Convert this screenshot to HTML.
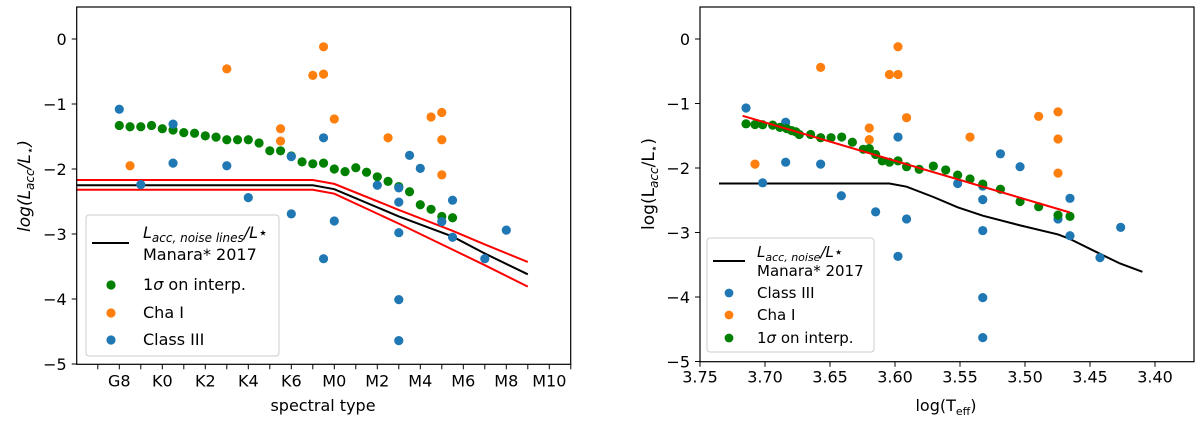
<!DOCTYPE html>
<html><head><meta charset="utf-8"><style>
html,body{margin:0;padding:0;background:#fff;}
svg{display:block;font-family:"DejaVu Sans","Liberation Sans",sans-serif;}
</style></head><body>
<svg id="fig" width="1200" height="422" xmlns="http://www.w3.org/2000/svg"></svg>
<script>
// ---------- Left chart data (x = spectral-type index, G8=0, M0=10) ----------
const spTickLabels = ["G8","K0","K2","K4","K6","M0","M2","M4","M6","M8","M10"];
const yTickLabels = ["0","−1","−2","−3","−4","−5"];
const yTickValues = [0,-1,-2,-3,-4,-5];
const leftGreenX = [0,0.5,1,1.5,2,2.5,3,3.5,4,4.5,5,5.5,6,6.5,7,7.5,8,8.5,9,9.5,10,10.5,11,11.5,12,12.5,13,13.5,14,14.5,15,15.5];
const leftGreenY = [-1.33,-1.35,-1.35,-1.33,-1.38,-1.40,-1.44,-1.45,-1.49,-1.51,-1.55,-1.55,-1.55,-1.60,-1.72,-1.72,-1.80,-1.89,-1.92,-1.91,-2.00,-2.04,-1.98,-2.05,-2.12,-2.19,-2.27,-2.35,-2.55,-2.62,-2.73,-2.75];
const leftOrangeX = [0.5,5,7.5,7.5,9,9.5,9.5,10,12.5,14.5,15,15,15];
const leftOrangeY = [-1.95,-0.46,-1.38,-1.57,-0.56,-0.12,-0.54,-1.23,-1.52,-1.20,-1.13,-1.55,-2.09];
const leftBlueX = [0,1,2.5,2.5,5,6,8,8,9.5,9.5,10,12,13,13,13,13,13,13.5,14,15,15.5,15.5,17,18];
const leftBlueY = [-1.08,-2.24,-1.31,-1.91,-1.95,-2.44,-1.81,-2.69,-1.52,-3.38,-2.80,-2.25,-2.29,-2.51,-2.98,-4.01,-4.64,-1.79,-1.99,-2.81,-2.48,-3.05,-3.38,-2.94];
const leftLineX = [-2,9,10,13,15.5,17,19];
const leftLineY = [-2.25,-2.25,-2.31,-2.73,-3.04,-3.30,-3.62];
const leftUpperY = [-2.17,-2.17,-2.23,-2.63,-2.95,-3.16,-3.43];
const leftLowerY = [-2.32,-2.32,-2.38,-2.84,-3.24,-3.48,-3.81];

// ---------- Right chart data (x = log Teff) ----------
const teffTickValues = [3.75,3.70,3.65,3.60,3.55,3.50,3.45,3.40];
const teffTickLabels = ["3.75","3.70","3.65","3.60","3.55","3.50","3.45","3.40"];
const rightGreenX = [3.7146,3.7077,3.7018,3.6941,3.6885,3.6833,3.6795,3.6762,3.6736,3.6649,3.6572,3.6492,3.6410,3.6328,3.6244,3.6198,3.6149,3.6098,3.6043,3.5977,3.5911,3.5814,3.5705,3.5610,3.5518,3.5423,3.5325,3.5189,3.5038,3.4895,3.4746,3.4654];
const rightGreenY = [-1.315,-1.325,-1.33,-1.335,-1.37,-1.39,-1.42,-1.44,-1.48,-1.48,-1.53,-1.53,-1.52,-1.60,-1.71,-1.70,-1.79,-1.89,-1.91,-1.89,-1.98,-2.02,-1.97,-2.03,-2.11,-2.17,-2.25,-2.33,-2.52,-2.60,-2.73,-2.75];
const rightOrangeX = [3.7077,3.6572,3.6198,3.6198,3.6043,3.5977,3.5977,3.5911,3.5423,3.4895,3.4746,3.4746,3.4746];
const rightOrangeY = [-1.94,-0.44,-1.38,-1.56,-0.55,-0.12,-0.55,-1.22,-1.52,-1.20,-1.13,-1.55,-2.08];
const rightBlueX = [3.7146,3.7018,3.6841,3.6841,3.6572,3.6413,3.6149,3.5977,3.5977,3.5911,3.5518,3.5325,3.5325,3.5325,3.5325,3.5325,3.5189,3.5038,3.4746,3.4654,3.4654,3.4423,3.4264];
const rightBlueY = [-1.07,-2.23,-1.29,-1.91,-1.94,-2.43,-2.68,-1.52,-3.37,-2.79,-2.24,-2.28,-2.49,-2.97,-4.01,-4.63,-1.78,-1.98,-2.79,-2.47,-3.05,-3.39,-2.92];
const rightLineX = [3.7354,3.6043,3.5911,3.5705,3.5518,3.5325,3.5038,3.4746,3.4654,3.4423,3.4269,3.4097];
const rightLineY = [-2.24,-2.24,-2.29,-2.45,-2.61,-2.74,-2.89,-3.03,-3.10,-3.33,-3.48,-3.61];
const rightFitX = [3.7172,3.4654];
const rightFitY = [-1.19,-2.69];

const NS="http://www.w3.org/2000/svg";
const svg=document.getElementById('fig');
function mk(tag,attrs,parent){const e=document.createElementNS(NS,tag);for(const k in attrs)e.setAttribute(k,attrs[k]);(parent||svg).appendChild(e);return e;}

const L={x0:76.7,x1:570.7,y0:7,y1:364.3};
const lx=i=>119.3+i*21.5;
const ly=v=>39+(-v)*65;
const R={x0:700,x1:1194,y0:7,y1:361.7};
const rx=v=>765+(3.70-v)*1300;
const ry=v=>39+(-v)*64.5;

function pathD(xs,ys,fx,fy){return xs.map((x,i)=>(i?'L':'M')+fx(x).toFixed(1)+' '+fy(ys[i]).toFixed(1)).join(' ');}

// ---- Left chart ----
const gL=mk('g',{});


for(let i=-1;i<=21;i++){
  const t=mk('line',{x1:lx(i),x2:lx(i),y1:L.y1,y2:L.y1+5,stroke:'#000','stroke-width':1},gL);
  
  
}
spTickLabels.forEach((s,k)=>{
  const t=mk('text',{x:lx(k*2),y:L.y1+22,'font-size':16,'text-anchor':'middle'},gL);t.textContent=s;
  
  
});
yTickValues.forEach((v,k)=>{
  mk('line',{x1:L.x0-5,x2:L.x0,y1:ly(v),y2:ly(v),stroke:'#000'},gL);
  const t=mk('text',{x:L.x0-10,y:ly(v)+6,'font-size':16,'text-anchor':'end'},gL);t.textContent=yTickLabels[k];
  
  
});
let p;
p=mk('path',{d:pathD(leftLineX,leftUpperY,lx,ly),fill:'none',stroke:'#f00','stroke-width':2},gL);


p=mk('path',{d:pathD(leftLineX,leftLowerY,lx,ly),fill:'none',stroke:'#f00','stroke-width':2},gL);


p=mk('path',{d:pathD(leftLineX,leftLineY,lx,ly),fill:'none',stroke:'#000','stroke-width':2},gL);


function dots(xs,ys,fx,fy,col,g,name){xs.forEach((x,i)=>{const c=mk('circle',{cx:fx(x),cy:fy(ys[i]),r:4.6,fill:col},g);
  
  });}
dots(leftGreenX,leftGreenY,lx,ly,'#008000',gL,'interp-point');
dots(leftOrangeX,leftOrangeY,lx,ly,'#ff7f0e',gL,'cha-i-point');
dots(leftBlueX,leftBlueY,lx,ly,'#1f77b4',gL,'class-iii-point');
mk('rect',{x:L.x0,y:L.y0,width:L.x1-L.x0,height:L.y1-L.y0,fill:'none',stroke:'#000','stroke-width':1.2},gL);

// ---- Right chart ----
const gR=mk('g',{});


teffTickValues.forEach((v,k)=>{
  mk('line',{x1:rx(v),x2:rx(v),y1:R.y1,y2:R.y1+5,stroke:'#000'},gR);
  const t=mk('text',{x:rx(v),y:R.y1+21,'font-size':16,'text-anchor':'middle'},gR);t.textContent=teffTickLabels[k];
  
  
});
yTickValues.forEach((v,k)=>{
  mk('line',{x1:R.x0-5,x2:R.x0,y1:ry(v),y2:ry(v),stroke:'#000'},gR);
  const t=mk('text',{x:R.x0-10,y:ry(v)+6,'font-size':16,'text-anchor':'end'},gR);t.textContent=yTickLabels[k];
  
  
});
p=mk('path',{d:pathD(rightLineX,rightLineY,rx,ry),fill:'none',stroke:'#000','stroke-width':2},gR);


dots(rightBlueX,rightBlueY,rx,ry,'#1f77b4',gR,'class-iii-point');
dots(rightOrangeX,rightOrangeY,rx,ry,'#ff7f0e',gR,'cha-i-point');
dots(rightGreenX,rightGreenY,rx,ry,'#008000',gR,'interp-point');
p=mk('path',{d:pathD(rightFitX,rightFitY,rx,ry),fill:'none',stroke:'#f00','stroke-width':2},gR);


mk('rect',{x:R.x0,y:R.y0,width:R.x1-R.x0,height:R.y1-R.y0,fill:'none',stroke:'#000','stroke-width':1.2},gR);
</script>
<svg style="position:absolute;left:0;top:0" width="1200" height="422" xmlns="http://www.w3.org/2000/svg" font-family="DejaVu Sans, Liberation Sans, sans-serif">
  <text x="323" y="411" font-size="16" text-anchor="middle">spectral type</text>
  <text transform="translate(30,186) rotate(-90)" font-size="17" text-anchor="middle" font-style="italic">log(L<tspan font-size="12" dy="4">acc</tspan><tspan dy="-4">/L</tspan><tspan font-size="12" dy="4">⋆</tspan><tspan dy="-4">)</tspan></text>
  <text x="946" y="411" font-size="16" text-anchor="middle">log(T<tspan font-size="11" dy="4">eff</tspan><tspan dy="-4">)</tspan></text>
  <text transform="translate(654,184) rotate(-90)" font-size="17" text-anchor="middle">log(L<tspan font-size="12" dy="4" font-style="italic">acc</tspan><tspan dy="-4">/L</tspan><tspan font-size="12" dy="4">⋆</tspan><tspan dy="-4">)</tspan></text>

  <g>
    <rect x="86" y="215" width="193" height="141" rx="3" fill="#fff" fill-opacity="0.85" stroke="#ccc"/>
    <line x1="92" x2="129" y1="243" y2="243" stroke="#000" stroke-width="2"/>
    <text x="143" y="238" font-size="16" font-style="italic">L<tspan font-size="12" dy="4">acc, noise lines</tspan><tspan dy="-4">/L⋆</tspan></text>
    <text x="143" y="260" font-size="16">Manara* 2017</text>
    <circle cx="111" cy="285" r="4.6" fill="#008000"/>
    <text x="143" y="290" font-size="16">1<tspan font-style="italic">σ</tspan> on interp.</text>
    <circle cx="111" cy="313" r="4.6" fill="#ff7f0e"/>
    <text x="143" y="318" font-size="16">Cha I</text>
    <circle cx="111" cy="340" r="4.6" fill="#1f77b4"/>
    <text x="143" y="345" font-size="16">Class III</text>
  </g>

  <g>
    <rect x="707" y="238" width="167" height="114" rx="3" fill="#fff" fill-opacity="0.85" stroke="#ccc"/>
    <line x1="713" x2="745" y1="261" y2="261" stroke="#000" stroke-width="2"/>
    <text x="757" y="257" font-size="15" font-style="italic">L<tspan font-size="11" dy="4">acc, noise</tspan><tspan dy="-4">/L⋆</tspan></text>
    <text x="757" y="276" font-size="15">Manara* 2017</text>
    <circle cx="729" cy="293" r="4.4" fill="#1f77b4"/>
    <text x="757" y="298" font-size="15">Class III</text>
    <circle cx="729" cy="315" r="4.4" fill="#ff7f0e"/>
    <text x="757" y="320" font-size="15">Cha I</text>
    <circle cx="729" cy="338" r="4.4" fill="#008000"/>
    <text x="757" y="343" font-size="15">1<tspan font-style="italic">σ</tspan> on interp.</text>
  </g>
</svg>
</body></html>
